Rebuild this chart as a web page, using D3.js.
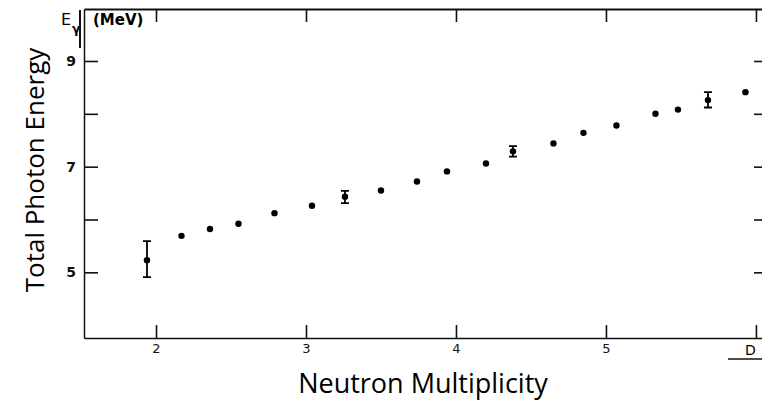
<!DOCTYPE html>
<html lang="en">
<head>
  <meta charset="utf-8">
  <title>Total Photon Energy vs Neutron Multiplicity</title>
  <script src="https://d3js.org/d3.v7.min.js"></script>
  <style>
    body { margin: 0; background: #fff; }
    svg { display: block; }
    .tick text { font-family: "DejaVu Sans", sans-serif; fill: #111; }
    .title { font-family: "Open Sans", sans-serif; fill: #000; }
  </style>
</head>
<body>
  <div id="chart"></div>

  <script type="text/javascript">
    "use strict"

    // valores
    var multiplicity = [1.94, 2.17, 2.36, 2.55, 2.79, 3.04, 3.26, 3.50, 3.74, 3.94,
                        4.20, 4.38, 4.65, 4.85, 5.07, 5.33, 5.48, 5.68, 5.93];
    var energy = [5.23, 5.69, 5.82, 5.92, 6.12, 6.26, 6.43, 6.55, 6.72, 6.91,
                  7.06, 7.29, 7.44, 7.64, 7.78, 8.00, 8.08, 8.26, 8.41];
    var errLow  = [4.91, null, null, null, null, null, 6.31, null, null, null,
                   null, 7.19, null, null, null, null, null, 8.12, null];
    var errHigh = [5.59, null, null, null, null, null, 6.54, null, null, null,
                   null, 7.39, null, null, null, null, null, 8.41, null];

    var xTicks = [2, 3, 4, 5, 6];
    var xTickLabels = ["2", "3", "4", "5", ""];
    var yTicks = [5, 6, 7, 8, 9];
    var yTickLabels = ["5", "", "7", "", "9"];

    var larguraSVG = 762, alturaSVG = 407;
    var margem = {top: 9, direita: -4, bottom: 69, esquerda: 84},
        larguraVis = larguraSVG - margem.esquerda - margem.direita,
        alturaVis = alturaSVG - margem.top - margem.bottom;

    var svg = d3.select("#chart")
        .append("svg")
        .attr("width", larguraSVG)
        .attr("height", alturaSVG);

    var grafico = svg.append("g")
        .attr("transform", "translate(" + margem.esquerda + "," + margem.top + ")");

    var x = d3.scaleLinear()
        .domain([1.52, 6.067])
        .range([0, larguraVis]);
    var y = d3.scaleLinear()
        .domain([3.757, 9.984])
        .range([alturaVis, 0]);

    /*
     * Eixos (ticks para dentro, como na figura escaneada)
     */
    function estilo(g, w) {
      g.select(".domain").attr("stroke", "#111").attr("stroke-width", w);
      g.selectAll(".tick line").attr("stroke", "#111").attr("stroke-width", 1.6);
    }

    grafico.append("g")
        .attr("transform", "translate(0," + alturaVis + ")")
        .call(d3.axisBottom(x).tickValues(xTicks)
          .tickFormat((d, i) => xTickLabels[i])
          .tickSizeInner(-13).tickSizeOuter(0).tickPadding(6))
        .call(g => estilo(g, 1.6))
        .selectAll("text").style("font-size", "13px");

    grafico.append("g")
        .call(d3.axisTop(x).tickValues(xTicks).tickFormat("")
          .tickSizeInner(-13).tickSizeOuter(0))
        .call(g => estilo(g, 2));

    grafico.append("g")
        .call(d3.axisLeft(y).tickValues(yTicks)
          .tickFormat((d, i) => yTickLabels[i])
          .tickSizeInner(-14).tickSizeOuter(0).tickPadding(8))
        .call(g => estilo(g, 1.5))
        .selectAll("text").style("font-size", "14px").style("font-weight", "bold");

    grafico.append("g")
        .attr("transform", "translate(" + larguraVis + ",0)")
        .call(d3.axisRight(y).tickValues(yTicks).tickFormat("")
          .tickSizeInner(-12).tickSizeOuter(0))
        .call(g => estilo(g, 1.6));

    /*
     * As marcas
     */
    var pontos = multiplicity.map((m, i) => ({m: m, e: energy[i], lo: errLow[i], hi: errHigh[i]}));
    var comErro = pontos.filter(d => d.lo !== null);

    grafico.selectAll(".erro")
        .data(comErro)
        .enter()
        .append("path")
        .attr("class", "erro")
        .attr("d", d => "M" + (x(d.m) - 4) + "," + y(d.hi) + "h8" +
                        "M" + x(d.m) + "," + y(d.hi) + "V" + y(d.lo) +
                        "M" + (x(d.m) - 4) + "," + y(d.lo) + "h8")
        .attr("stroke", "#000")
        .attr("stroke-width", 1.8)
        .attr("fill", "none");

    grafico.selectAll(".ponto")
        .data(pontos)
        .enter()
        .append("circle")
        .attr("class", "ponto")
        .attr("cx", d => x(d.m))
        .attr("cy", d => y(d.e))
        .attr("r", 3.2)
        .style("fill", "#000");

    /*
     * Textos
     */
    svg.append("text")
        .attr("x", 61).attr("y", 25)
        .style("font-family", "DejaVu Sans, sans-serif")
        .style("font-size", "16px")
        .text("E");
    svg.append("text")
        .attr("x", 72).attr("y", 33)
        .style("font-family", "DejaVu Sans, sans-serif")
        .style("font-size", "12px")
        .style("font-weight", "bold")
        .text("γ");
    svg.append("line")
        .attr("x1", 80).attr("x2", 80).attr("y1", 10).attr("y2", 48)
        .attr("stroke", "#111").attr("stroke-width", 2);
    svg.append("text")
        .attr("x", 93).attr("y", 25)
        .style("font-family", "DejaVu Sans, sans-serif")
        .style("font-size", "15px")
        .style("font-weight", "bold")
        .text("(MeV)");

    svg.append("text")
        .attr("x", 745).attr("y", 355)
        .style("font-family", "DejaVu Sans, sans-serif")
        .style("font-size", "14px")
        .text("D");
    svg.append("line")
        .attr("x1", 728).attr("x2", 762).attr("y1", 359).attr("y2", 359)
        .attr("stroke", "#111").attr("stroke-width", 1.5);

    svg.append("text")
        .attr("class", "title")
        .attr("text-anchor", "middle")
        .attr("transform", "translate(44,170) rotate(-90)")
        .style("font-size", "26px")
        .text("Total Photon Energy");

    svg.append("text")
        .attr("class", "title")
        .attr("text-anchor", "middle")
        .attr("x", 423).attr("y", 393)
        .style("font-size", "27px")
        .text("Neutron Multiplicity");
  </script>
</body>
</html>
